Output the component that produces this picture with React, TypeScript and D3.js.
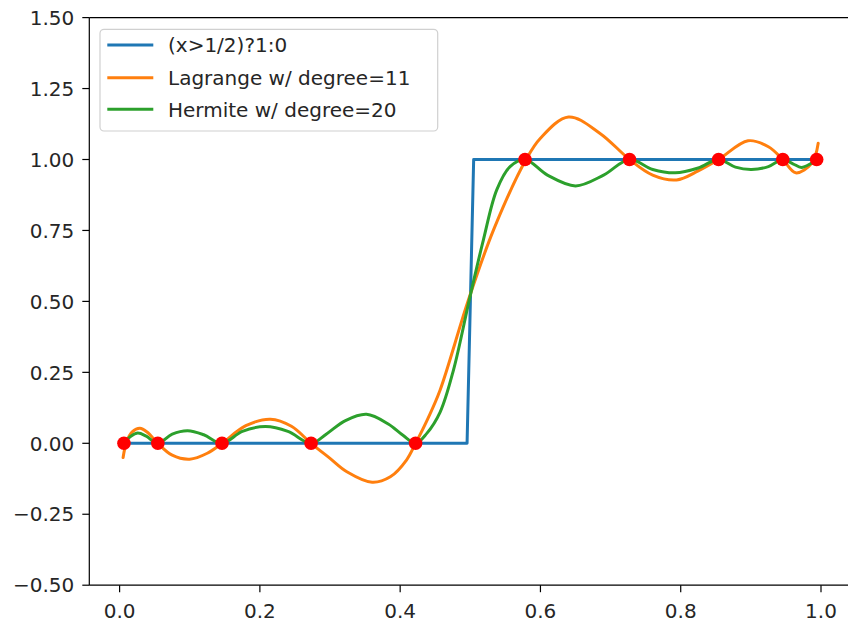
import React from "react";
import * as d3 from "d3";

// ---- data ----
const xTicks = [0.0, 0.2, 0.4, 0.6, 0.8, 1.0];
const yTicks = [-0.5, -0.25, 0.0, 0.25, 0.5, 0.75, 1.0, 1.25, 1.5];

const stepX = [0.0062, 0.4954, 0.5048, 0.9938];
const stepY = [0, 0, 1, 1];

const lagrangeX = [0.005, 0.010, 0.018, 0.029, 0.040, 0.0545, 0.075, 0.100, 0.125, 0.146, 0.180, 0.215, 0.245, 0.273, 0.300, 0.324, 0.360, 0.386, 0.409, 0.422, 0.440, 0.457, 0.4973, 0.533, 0.5795, 0.600, 0.640, 0.685, 0.727, 0.760, 0.794, 0.825, 0.854, 0.896, 0.925, 0.9455, 0.964, 0.987, 0.996];
const lagrangeY = [-0.050, 0.005, 0.040, 0.053, 0.038, 0.0, -0.042, -0.056, -0.035, 0.0, 0.062, 0.085, 0.060, 0.0, -0.053, -0.100, -0.137, -0.118, -0.059, 0.0, 0.090, 0.188, 0.505, 0.751, 1.0, 1.075, 1.150, 1.092, 1.0, 0.945, 0.928, 0.960, 1.0, 1.066, 1.045, 1.0, 0.953, 0.987, 1.057];

const hermiteX = [0.0062, 0.016, 0.026, 0.038, 0.0545, 0.075, 0.097, 0.120, 0.146, 0.175, 0.208, 0.240, 0.273, 0.295, 0.322, 0.352, 0.383, 0.404, 0.422, 0.438, 0.457, 0.476, 0.4996, 0.5186, 0.5377, 0.5567, 0.578, 0.610, 0.650, 0.690, 0.727, 0.760, 0.792, 0.825, 0.854, 0.878, 0.901, 0.925, 0.9455, 0.960, 0.972, 0.985, 0.9938];
const hermiteY = [0.0, 0.025, 0.036, 0.025, 0.0, 0.032, 0.044, 0.030, 0.0, 0.042, 0.059, 0.042, 0.0, 0.033, 0.080, 0.102, 0.068, 0.028, 0.0, 0.035, 0.110, 0.258, 0.517, 0.716, 0.893, 0.975, 1.0, 0.945, 0.907, 0.945, 1.0, 0.965, 0.953, 0.970, 1.0, 0.973, 0.965, 0.975, 1.0, 0.985, 0.972, 0.985, 1.0];

const nodeX = [0.0062, 0.0545, 0.146, 0.273, 0.422, 0.578, 0.727, 0.854, 0.9455, 0.9938];
const nodeY = [0, 0, 0, 0, 0, 1, 1, 1, 1, 1];

const seriesLabels = ["(x>1/2)?1:0", "Lagrange w/ degree=11", "Hermite w/ degree=20"];
const seriesColors = ["#1f77b4", "#ff7f0e", "#2ca02c"];

const W = 848;
const H = 622;
const FONT = "DejaVu Sans, sans-serif";

export default function App() {
  const left = 89.3, right = 851.3, top = 17.6, bottom = 585.2;
  const x = d3.scaleLinear().domain([-0.0432, 1.0432]).range([left, right]);
  const y = d3.scaleLinear().domain([-0.5, 1.5]).range([bottom, top]);

  const zip = (xs: number[], ys: number[]) => xs.map((v, i) => [v, ys[i]] as [number, number]);
  const linear = d3.line<[number, number]>().x(d => x(d[0])).y(d => y(d[1]));
  const smooth = d3.line<[number, number]>().x(d => x(d[0])).y(d => y(d[1])).curve(d3.curveCatmullRom.alpha(0.5));

  const fmtY = (v: number) => (v < 0 ? "\u2212" : "") + Math.abs(v).toFixed(2);
  const fmtX = (v: number) => v.toFixed(1);

  const legendRows = [45, 77.7, 109.3];

  return (
    <svg width={W} height={H} style={{ display: "block", position: "absolute", left: 0, top: 0 }} fontFamily={FONT}>
      <rect x={0} y={0} width={W} height={H} fill="#fff" />
      {/* lines */}
      <path d={linear(zip(stepX, stepY)) || ""} fill="none" stroke={seriesColors[0]} strokeWidth={3} strokeLinejoin="round" />
      <path d={smooth(zip(lagrangeX, lagrangeY)) || ""} fill="none" stroke={seriesColors[1]} strokeWidth={3} strokeLinejoin="round" strokeLinecap="round" />
      <path d={smooth(zip(hermiteX, hermiteY)) || ""} fill="none" stroke={seriesColors[2]} strokeWidth={3} strokeLinejoin="round" strokeLinecap="round" />
      {nodeX.map((v, i) => (
        <circle key={i} cx={x(v)} cy={y(nodeY[i])} r={6.8} fill="#ff0000" />
      ))}
      {/* spines */}
      <line x1={left} x2={left} y1={top} y2={bottom} stroke="#000" strokeWidth={1.2} />
      <line x1={left} x2={W} y1={bottom} y2={bottom} stroke="#000" strokeWidth={1.2} />
      <line x1={left} x2={W} y1={top} y2={top} stroke="#000" strokeWidth={1.2} />
      {/* y ticks */}
      {yTicks.map(t => (
        <g key={"y" + t}>
          <line x1={left - 7} x2={left} y1={y(t)} y2={y(t)} stroke="#000" strokeWidth={1.2} />
          <text x={left - 15} y={y(t)} dy="0.36em" textAnchor="end" fontSize={20} fill="#262626">{fmtY(t)}</text>
        </g>
      ))}
      {/* x ticks */}
      {xTicks.map(t => (
        <g key={"x" + t}>
          <line x1={x(t)} x2={x(t)} y1={bottom} y2={bottom + 7} stroke="#000" strokeWidth={1.2} />
          <text x={x(t)} y={618} textAnchor="middle" fontSize={20} fill="#262626">{fmtX(t)}</text>
        </g>
      ))}
      {/* legend */}
      <rect x={100} y={29.3} width={337.7} height={101.7} rx={4} fill="#fff" fillOpacity={0.8} stroke="#d0d0d0" strokeWidth={1.2} />
      {seriesLabels.map((lab, i) => (
        <g key={lab}>
          <line x1={107.3} x2={153.3} y1={legendRows[i]} y2={legendRows[i]} stroke={seriesColors[i]} strokeWidth={3} />
          <text x={168} y={legendRows[i]} dy="0.36em" fontSize={20} fill="#262626">{lab}</text>
        </g>
      ))}
    </svg>
  );
}
